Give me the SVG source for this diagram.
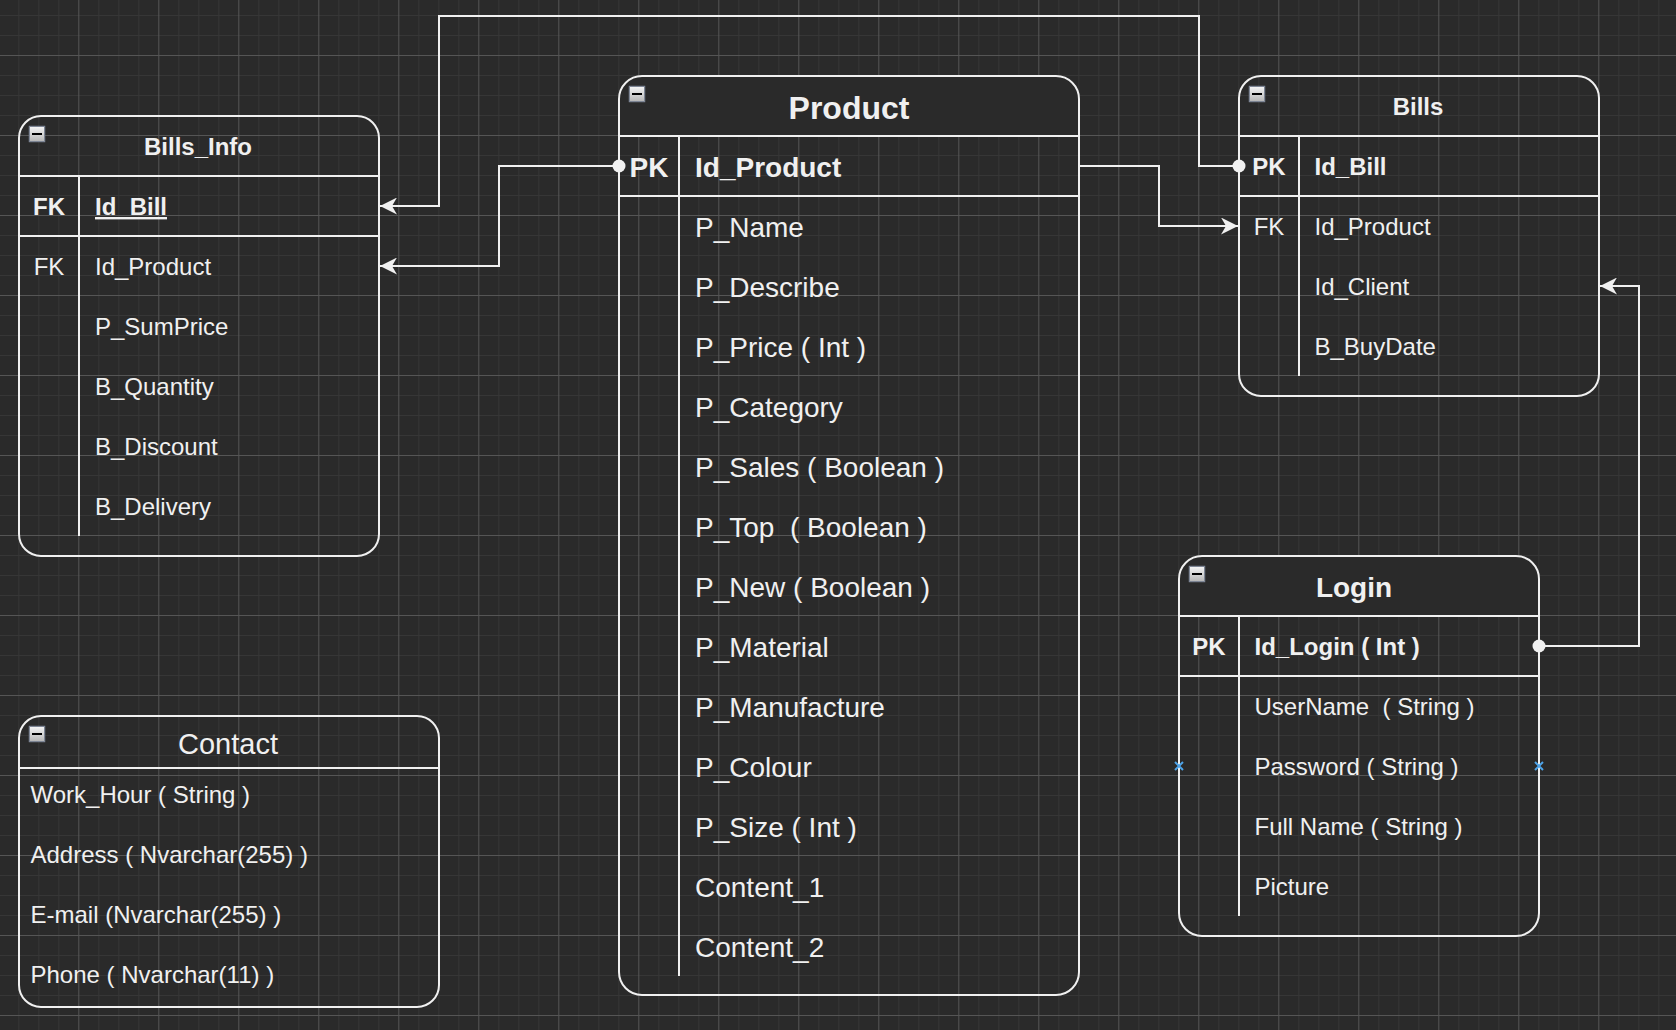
<svg xmlns="http://www.w3.org/2000/svg" xmlns:xlink="http://www.w3.org/1999/xlink" width="1676" height="1030" viewBox="0 0 1676 1030">
<style>
.t{font-family:"Liberation Sans",Arial,Helvetica,sans-serif;fill:#f0f0f0;white-space:pre}
.b{font-weight:bold}
.s24{font-size:24px}
.s28{font-size:28px}
.c{text-anchor:middle}
.box{fill:none;stroke:#f0f0f0;stroke-width:2}
.ln{stroke:#f0f0f0;stroke-width:2;fill:none}
.conn{stroke:#f0f0f0;stroke-width:2;fill:none;stroke-linejoin:miter}
.hdr{fill:#2a2a2a;stroke:none}
.pt{stroke:#4da3e8;stroke-width:2;fill:none}
</style>
<defs>
<pattern id="grid" patternUnits="userSpaceOnUse" x="-1.7" y="-25" width="80" height="80">
<rect x="20" y="0" width="1" height="80" fill="#363636"/>
<rect x="40" y="0" width="1" height="80" fill="#363636"/>
<rect x="60" y="0" width="1" height="80" fill="#363636"/>
<rect x="0" y="20" width="80" height="1" fill="#363636"/>
<rect x="0" y="40" width="80" height="1" fill="#363636"/>
<rect x="0" y="60" width="80" height="1" fill="#363636"/>
<rect x="0" y="0" width="1" height="80" fill="#555555"/>
<rect x="0" y="0" width="80" height="1" fill="#555555"/>
</pattern>
<linearGradient id="ig" x1="0" y1="0" x2="0" y2="1">
<stop offset="0" stop-color="#f6f6f6"/>
<stop offset="1" stop-color="#b4b4b4"/>
</linearGradient>
<symbol id="minus" viewBox="0 0 17 17">
<rect x="0.75" y="0.75" width="15.5" height="15.5" fill="url(#ig)" stroke="#7d8594" stroke-width="1.5"/>
<rect x="3.5" y="7.5" width="10" height="2" fill="#000"/>
</symbol>
<marker id="arr" markerUnits="userSpaceOnUse" markerWidth="17" markerHeight="17" viewBox="0 0 17 17" refX="17" refY="8.5" orient="auto">
<path d="M0,0 L17,8.5 L0,17 L5,8.5 Z" fill="#f0f0f0"/>
</marker>
<marker id="dot" markerUnits="userSpaceOnUse" markerWidth="14" markerHeight="14" viewBox="0 0 14 14" refX="7" refY="7" orient="auto">
<circle cx="7" cy="7" r="6.5" fill="#f0f0f0"/>
</marker>
</defs>
<rect x="0" y="0" width="1676" height="1030" fill="#2a2a2a"/>
<rect x="0" y="0" width="1676" height="1030" fill="url(#grid)"/>

<g id="connectors">
<path class="conn" d="M1239,166 H1199 V16 H439 V206 H380" marker-start="url(#dot)" marker-end="url(#arr)"/>
<path class="conn" d="M619,166 H499 V266 H380" marker-start="url(#dot)" marker-end="url(#arr)"/>
<path class="conn" d="M1079,166 H1159 V226 H1238" marker-end="url(#arr)"/>
<path class="conn" d="M1539,646 H1639 V286 H1600" marker-start="url(#dot)" marker-end="url(#arr)"/>
</g>

<g id="bills_info">
<rect class="box" x="19" y="116" width="360" height="440" rx="22" ry="22"/>
<line class="ln" x1="19" y1="176" x2="379" y2="176"/>
<line class="ln" x1="19" y1="236" x2="379" y2="236"/>
<line class="ln" x1="79" y1="176" x2="79" y2="536"/>
<use href="#minus" x="28.5" y="125.5" width="17" height="17"/>
<text class="t b s24 c" x="198" y="154.5">Bills_Info</text>
<text class="t b s24 c" x="49" y="215">FK</text>
<text class="t b s24" x="95" y="215" text-decoration="underline">Id_Bill</text>
<text class="t s24 c" x="49" y="275">FK</text>
<text class="t s24" x="95" y="275">Id_Product</text>
<text class="t s24" x="95" y="335">P_SumPrice</text>
<text class="t s24" x="95" y="395">B_Quantity</text>
<text class="t s24" x="95" y="455">B_Discount</text>
<text class="t s24" x="95" y="515">B_Delivery</text>
</g>

<g id="product">
<path class="hdr" d="M619,136 V99 A23,23 0 0 1 642,76 H1056 A23,23 0 0 1 1079,99 V136 Z"/>
<rect class="box" x="619" y="76" width="460" height="919" rx="23" ry="23"/>
<line class="ln" x1="619" y1="136" x2="1079" y2="136"/>
<line class="ln" x1="619" y1="196" x2="1079" y2="196"/>
<line class="ln" x1="679" y1="136" x2="679" y2="976"/>
<use href="#minus" x="628.5" y="85.5" width="17" height="17"/>
<text class="t b c" style="font-size:32px" x="849" y="119">Product</text>
<text class="t b s28 c" x="649" y="177">PK</text>
<text class="t b s28" x="695" y="177">Id_Product</text>
<text class="t s28" x="695" y="237">P_Name</text>
<text class="t s28" x="695" y="297">P_Describe</text>
<text class="t s28" x="695" y="357">P_Price ( Int )</text>
<text class="t s28" x="695" y="417">P_Category</text>
<text class="t s28" x="695" y="477">P_Sales ( Boolean )</text>
<text class="t s28" x="695" y="537">P_Top  ( Boolean )</text>
<text class="t s28" x="695" y="597">P_New ( Boolean )</text>
<text class="t s28" x="695" y="657">P_Material</text>
<text class="t s28" x="695" y="717">P_Manufacture</text>
<text class="t s28" x="695" y="777">P_Colour</text>
<text class="t s28" x="695" y="837">P_Size ( Int )</text>
<text class="t s28" x="695" y="897">Content_1</text>
<text class="t s28" x="695" y="957">Content_2</text>
</g>

<g id="bills">
<rect class="box" x="1239" y="76" width="360" height="320" rx="22" ry="22"/>
<line class="ln" x1="1239" y1="136" x2="1599" y2="136"/>
<line class="ln" x1="1239" y1="196" x2="1599" y2="196"/>
<line class="ln" x1="1299" y1="136" x2="1299" y2="376"/>
<use href="#minus" x="1248.5" y="85.5" width="17" height="17"/>
<text class="t b s24 c" x="1418" y="115">Bills</text>
<text class="t b s24 c" x="1269" y="175">PK</text>
<text class="t b s24" x="1314.5" y="175">Id_Bill</text>
<text class="t s24 c" x="1269" y="235">FK</text>
<text class="t s24" x="1314.5" y="235">Id_Product</text>
<text class="t s24" x="1314.5" y="295">Id_Client</text>
<text class="t s24" x="1314.5" y="355">B_BuyDate</text>
</g>

<g id="login">
<path class="hdr" d="M1179,616 V579 A23,23 0 0 1 1202,556 H1516 A23,23 0 0 1 1539,579 V616 Z"/>
<rect class="box" x="1179" y="556" width="360" height="380" rx="23" ry="23"/>
<line class="ln" x1="1179" y1="616" x2="1539" y2="616"/>
<line class="ln" x1="1179" y1="676" x2="1539" y2="676"/>
<line class="ln" x1="1239" y1="616" x2="1239" y2="916"/>
<use href="#minus" x="1188.5" y="565.5" width="17" height="17"/>
<text class="t b s28 c" x="1354" y="597">Login</text>
<text class="t b s24 c" x="1209" y="655">PK</text>
<text class="t b s24" x="1254.5" y="655">Id_Login ( Int )</text>
<text class="t s24" x="1254.5" y="715">UserName  ( String )</text>
<text class="t s24" x="1254.5" y="775">Password ( String )</text>
<text class="t s24" x="1254.5" y="835">Full Name ( String )</text>
<text class="t s24" x="1254.5" y="895">Picture</text>
<path class="pt" d="M1175,762 L1183,770 M1183,762 L1175,770"/>
<path class="pt" d="M1535,762 L1543,770 M1543,762 L1535,770"/>
</g>

<g id="contact">
<rect class="box" x="19" y="716" width="420" height="291" rx="22" ry="22"/>
<line class="ln" x1="19" y1="768" x2="439" y2="768"/>
<use href="#minus" x="28.5" y="725.5" width="17" height="17"/>
<text class="t c" style="font-size:29px" x="228" y="754">Contact</text>
<text class="t s24" x="30.5" y="803">Work_Hour ( String )</text>
<text class="t s24" x="30.5" y="863">Address ( Nvarchar(255) )</text>
<text class="t s24" x="30.5" y="923">E-mail (Nvarchar(255) )</text>
<text class="t s24" x="30.5" y="983">Phone ( Nvarchar(11) )</text>
</g>
</svg>
